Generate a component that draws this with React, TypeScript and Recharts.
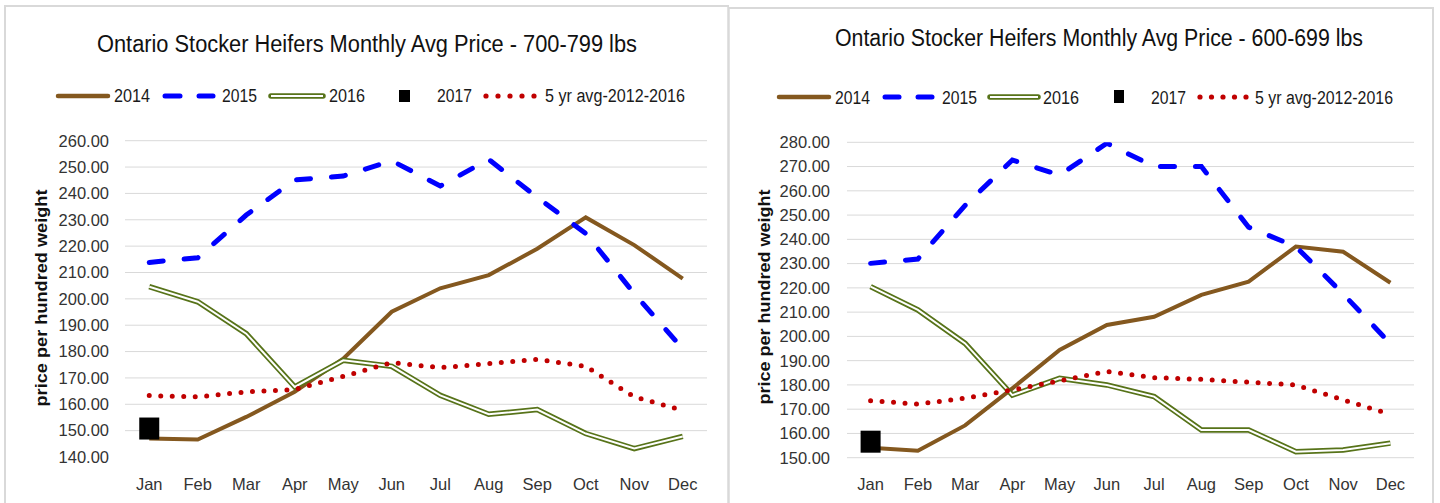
import React from 'react';
import { LineChart, Line, XAxis, YAxis, CartesianGrid } from 'recharts';

const months = ['Jan', 'Feb', 'Mar', 'Apr', 'May', 'Jun', 'Jul', 'Aug', 'Sep', 'Oct', 'Nov', 'Dec'];

// Left chart: 700-799 lbs
const left2014 = [147, 146.6, 155.2, 164.7, 177.3, 195.1, 204, 209, 219, 230.9, 220.4, 207.7];
const left2015 = [213.8, 215.6, 231.8, 245.1, 246.6, 252.4, 242.8, 252.9, 238.5, 224.8, 202, 181];
const left2016 = [204.6, 198.9, 186.8, 166.6, 176.7, 174.4, 163.4, 156.2, 158, 148.9, 143.2, 147.8];
const left2017: (number | null)[] = [150.8, null, null, null, null, null, null, null, null, null, null, null];
const left5yr = [163.3, 162.8, 164.7, 165.6, 170.6, 175.8, 173.9, 175.4, 177, 174.4, 162.8, 157.7];
const leftTicks = [140, 150, 160, 170, 180, 190, 200, 210, 220, 230, 240, 250, 260];
const leftGrid = [150, 160, 170, 180, 190, 200, 210, 220, 230, 240, 250, 260];

// Right chart: 600-699 lbs
const right2014 = [154.1, 152.9, 163.3, 178.6, 194.4, 204.7, 208.1, 217.1, 222.6, 237, 234.9, 222.1];
const right2015 = [230.1, 231.9, 254, 272.7, 266.5, 279.6, 270, 270, 245, 237, 217.5, 197];
const right2016 = [220.5, 210.9, 197.1, 175.8, 182.7, 180, 175.2, 161.4, 161.4, 152.5, 153.2, 156];
const right2017: (number | null)[] = [156.6, null, null, null, null, null, null, null, null, null, null, null];
const right5yr = [173.5, 172.1, 174.5, 177.9, 181.7, 185.5, 183, 182.3, 181.1, 180, 173.8, 167.9];
const rightTicks = [150, 160, 170, 180, 190, 200, 210, 220, 230, 240, 250, 260, 270, 280];

const leftTitle = 'Ontario Stocker Heifers Monthly Avg Price - 700-799 lbs';
const rightTitle = 'Ontario Stocker Heifers Monthly Avg Price - 600-699 lbs';
const yLabel = 'price per hundred weight';
const seriesNames = ['2014', '2015', '2016', '2017', '5 yr avg-2012-2016'];

const BROWN = '#84581F';
const BLUE = '#0000FF';
const GREEN = '#577319';
const RED = '#C00000';
const GRID = '#d9d9d9';
const TICK = '#333333';
const FONT = '"Liberation Sans", Arial, sans-serif';

const build = (a: number[], b: number[], c: number[], d: (number | null)[], e: number[]) =>
  months.map((m, i) => ({ month: m, y2014: a[i], y2015: b[i], y2016: c[i], y2017: d[i], avg: e[i] }));

const leftData = build(left2014, left2015, left2016, left2017, left5yr);
const rightData = build(right2014, right2015, right2016, right2017, right5yr);

const SquareDot = (props: any) => {
  const { cx, cy, value, index } = props;
  if (cx == null || cy == null || value == null) return <g key={`sq-${index}`} />;
  return <rect key={`sq-${index}`} x={cx - 10} y={cy - 11} width={20} height={22} fill="#000" />;
};

type ChartProps = {
  data: any[];
  left: number;
  margin: { top: number; right: number; bottom: number; left: number };
  domain: [number, number];
  ticks: number[];
  gridValues: number[];
  pad: number;
  tickMarginY: number;
};

const Chart = ({ data, left, margin, domain, ticks, gridValues, pad, tickMarginY }: ChartProps) => (
  <div style={{ position: 'absolute', left, top: 0 }}>
    <LineChart width={720} height={503} data={data} margin={margin}>
      <CartesianGrid vertical={false} stroke={GRID} horizontalValues={gridValues} />
      <XAxis
        dataKey="month"
        axisLine={false}
        tickLine={false}
        height={30}
        padding={{ left: pad, right: pad }}
        tickMargin={15}
        interval={0}
        tick={{ fill: TICK, fontSize: 16.5, fontFamily: FONT }}
      />
      <YAxis
        domain={domain}
        ticks={ticks}
        width={60}
        axisLine={false}
        tickLine={false}
        tickMargin={tickMarginY}
        interval={0}
        allowDataOverflow
        tickFormatter={(v: number) => v.toFixed(2)}
        tick={{ fill: TICK, fontSize: 16.5, fontFamily: FONT }}
      />
      <Line dataKey="y2014" stroke={BROWN} strokeWidth={4} dot={false} isAnimationActive={false} type="linear" />
      <Line
        dataKey="y2015"
        stroke={BLUE}
        strokeWidth={5}
        strokeDasharray="14 21"
        strokeLinecap="round"
        dot={false}
        isAnimationActive={false}
        type="linear"
      />
      <Line dataKey="y2016" stroke={GREEN} strokeWidth={5.5} dot={false} isAnimationActive={false} type="linear" />
      <Line dataKey="y2016" stroke="#ffffff" strokeWidth={2} dot={false} isAnimationActive={false} type="linear" />
      <Line dataKey="y2017" stroke="none" dot={SquareDot} isAnimationActive={false} type="linear" />
      <Line
        dataKey="avg"
        stroke={RED}
        strokeWidth={5}
        strokeDasharray="0 11.5"
        strokeLinecap="round"
        dot={false}
        isAnimationActive={false}
        type="linear"
      />
    </LineChart>
  </div>
);

type LegendPos = {
  y: number;
  base: number;
  l2014: [number, number];
  d2015: [number, number, number, number];
  l2016: [number, number];
  sq: [number, number, number, number];
  dots: [number, number];
  texts: [number, number][];
};

const Legend = ({ p }: { p: LegendPos }) => {
  const dotXs = [0, 1, 2, 3, 4].map((i) => p.dots[0] + ((p.dots[1] - p.dots[0]) * i) / 4);
  return (
    <g>
      <line x1={p.l2014[0]} x2={p.l2014[1]} y1={p.y} y2={p.y} stroke={BROWN} strokeWidth={4.5} strokeLinecap="round" />
      <line x1={p.d2015[0]} x2={p.d2015[1]} y1={p.y} y2={p.y} stroke={BLUE} strokeWidth={5} strokeLinecap="round" />
      <line x1={p.d2015[2]} x2={p.d2015[3]} y1={p.y} y2={p.y} stroke={BLUE} strokeWidth={5} strokeLinecap="round" />
      <line x1={p.l2016[0]} x2={p.l2016[1]} y1={p.y} y2={p.y} stroke={GREEN} strokeWidth={5.5} strokeLinecap="round" />
      <line x1={p.l2016[0]} x2={p.l2016[1]} y1={p.y} y2={p.y} stroke="#fff" strokeWidth={2} />
      <rect x={p.sq[0]} y={p.sq[1]} width={p.sq[2]} height={p.sq[3]} fill="#000" />
      {dotXs.map((x, i) => (
        <circle key={i} cx={x} cy={p.y} r={2.6} fill={RED} />
      ))}
      {seriesNames.map((n, i) => (
        <text
          key={n}
          x={p.texts[i][0]}
          y={p.base}
          fontSize={18}
          fontFamily={FONT}
          fill="#1a1a1a"
          textLength={p.texts[i][1]}
          lengthAdjust="spacingAndGlyphs"
        >
          {n}
        </text>
      ))}
    </g>
  );
};

const leftLegend: LegendPos = {
  y: 96,
  base: 102,
  l2014: [58, 108],
  d2015: [165, 180, 199, 213],
  l2016: [271, 323],
  sq: [399, 90, 11, 12],
  dots: [486, 534],
  texts: [
    [114, 36],
    [222, 35],
    [329, 36],
    [437, 35],
    [545, 140],
  ],
};

const rightLegend: LegendPos = {
  y: 97,
  base: 104,
  l2014: [779, 829],
  d2015: [885, 899, 918, 932],
  l2016: [990, 1038],
  sq: [1114, 90, 10, 13],
  dots: [1200, 1246],
  texts: [
    [835, 35],
    [942, 35],
    [1043, 36],
    [1151, 35],
    [1255, 138],
  ],
};

export default function App() {
  return (
    <div style={{ position: 'fixed', left: 0, top: 0, width: 1440, height: 503, background: '#fff', fontFamily: FONT }}>
      <Chart
        data={leftData}
        left={0}
        margin={{ top: 140.7, right: 13, bottom: 16, left: 65 }}
        domain={[140, 260]}
        ticks={leftTicks}
        gridValues={leftGrid}
        pad={24.25}
        tickMarginY={10}
      />
      <Chart
        data={rightData}
        left={720}
        margin={{ top: 142.3, right: 26, bottom: 15.3, left: 67 }}
        domain={[150, 280]}
        ticks={rightTicks}
        gridValues={rightTicks}
        pad={23.6}
        tickMarginY={11}
      />
      <svg width={1440} height={503} style={{ position: 'absolute', left: 0, top: 0, pointerEvents: 'none' }}>
        {/* panel borders */}
        <line x1={4} x2={729} y1={6} y2={6} stroke={GRID} strokeWidth={2} />
        <line x1={5} x2={5} y1={6} y2={503} stroke={GRID} strokeWidth={2} />
        <line x1={728.5} x2={728.5} y1={7} y2={503} stroke={GRID} strokeWidth={2.5} />
        <line x1={728} x2={1434} y1={8} y2={8} stroke={GRID} strokeWidth={2} />
        <line x1={1433} x2={1433} y1={8} y2={503} stroke={GRID} strokeWidth={2} />

        {/* titles */}
        <text
          x={367}
          y={52}
          textAnchor="middle"
          fontSize={23}
          fontFamily={FONT}
          fill="#111"
          textLength={540}
          lengthAdjust="spacingAndGlyphs"
        >
          {leftTitle}
        </text>
        <text
          x={1099}
          y={46}
          textAnchor="middle"
          fontSize={23}
          fontFamily={FONT}
          fill="#111"
          textLength={528}
          lengthAdjust="spacingAndGlyphs"
        >
          {rightTitle}
        </text>

        <Legend p={leftLegend} />
        <Legend p={rightLegend} />

        {/* y-axis titles */}
        <text
          transform="translate(47,298) rotate(-90)"
          textAnchor="middle"
          fontSize={17}
          fontWeight="bold"
          fontFamily={FONT}
          fill="#111"
          textLength={217}
          lengthAdjust="spacingAndGlyphs"
        >
          {yLabel}
        </text>
        <text
          transform="translate(770,297) rotate(-90)"
          textAnchor="middle"
          fontSize={17}
          fontWeight="bold"
          fontFamily={FONT}
          fill="#111"
          textLength={215}
          lengthAdjust="spacingAndGlyphs"
        >
          {yLabel}
        </text>
      </svg>
    </div>
  );
}
